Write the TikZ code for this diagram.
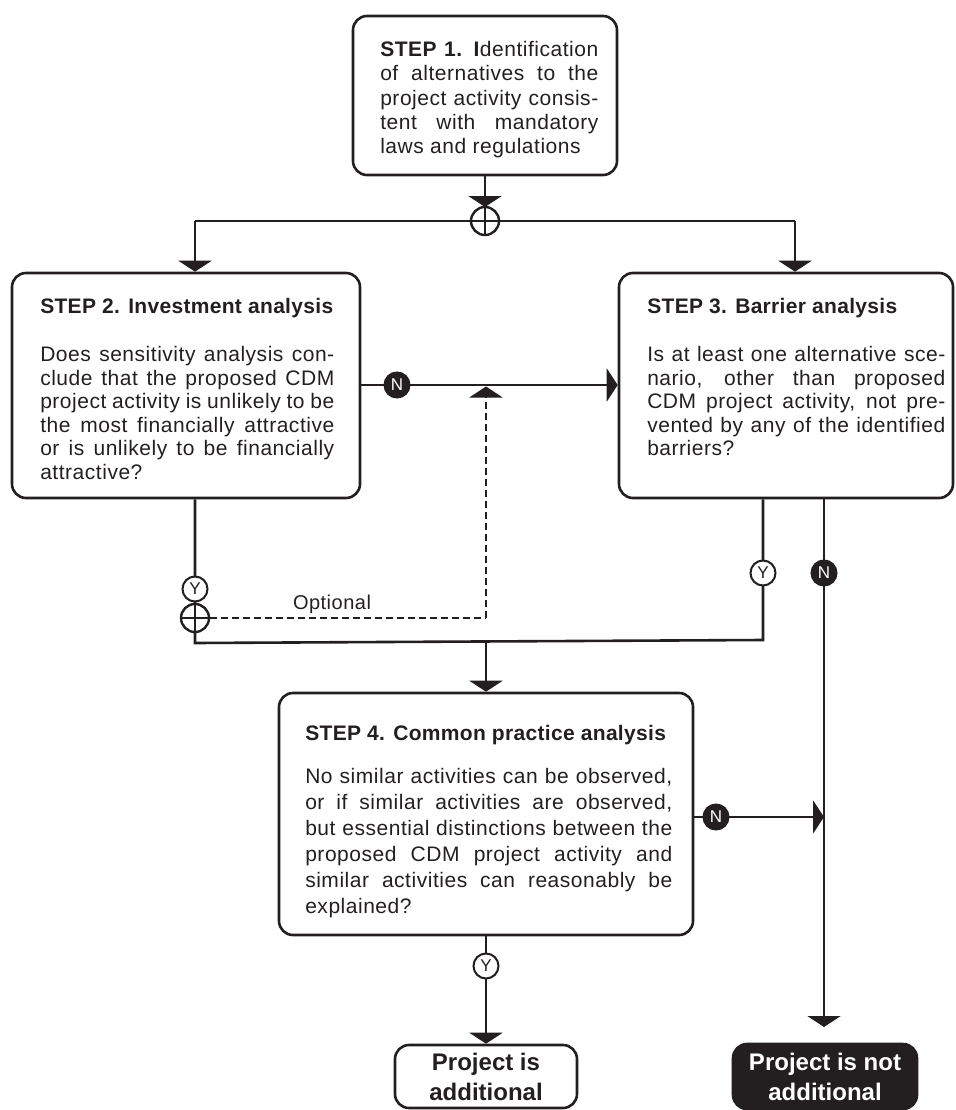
\documentclass[tikz,border=0pt]{standalone}
\usepackage{fontspec}
\setmainfont{Liberation Sans}
\newfontfamily\trk{Liberation Sans}[LetterSpace=2.5]
\newfontfamily\trkh{Liberation Sans}[LetterSpace=1.5]
\usetikzlibrary{arrows.meta}
\definecolor{ink}{RGB}{35,31,32}
\newcommand{\J}[2]{\makebox[#1][s]{#2}}
\newcommand{\Lf}[2]{\makebox[#1][l]{#2}}
\begin{document}
\begin{tikzpicture}[x=1pt,y=-1pt,line width=2.6pt,color=ink,
  stepbox/.style={draw=ink,rounded corners=14pt,inner sep=0pt},
  txt/.style={inner sep=0pt,align=left,text=ink},
  headf/.style={font=\trkh\bfseries\fontsize{21}{23}\selectfont},
  bodyA/.style={font=\trk\fontsize{21}{24.3}\selectfont},
  bodyB/.style={font=\trk\fontsize{21}{23.6}\selectfont},
  bodyC/.style={font=\trk\fontsize{21}{26}\selectfont},
  arr/.style={-{Triangle[length=11pt,width=33pt]}},
  dsh/.style={dash pattern=on 7pt off 4pt,line width=2.2pt},
  ycirc/.style={circle,draw=ink,fill=white,line width=2pt,inner sep=0pt,minimum size=25pt,font=\fontsize{17}{17}\selectfont,text=ink},
  ncirc/.style={circle,draw=ink,fill=ink,line width=2pt,inner sep=0pt,minimum size=25pt,font=\fontsize{17}{17}\selectfont,text=white},
  pcirc/.style={circle,draw=ink,fill=white,line width=2.4pt,inner sep=0pt,minimum size=28pt}]
\useasboundingbox (0,0) rectangle (955,1110);

% boxes
\node[stepbox,minimum width=264pt,minimum height=159pt] (s1) at (485,95.5) {};
\node[stepbox,minimum width=348pt,minimum height=225pt] (s2) at (186,385.5) {};
\node[stepbox,minimum width=334pt,minimum height=225pt] (s3) at (786,385.5) {};
\node[stepbox,minimum width=414pt,minimum height=242pt] (s4) at (486,814) {};
\node[stepbox,minimum width=182pt,minimum height=63pt] (add) at (486,1076.5) {};
\node[stepbox,fill=ink,minimum width=184pt,minimum height=65pt] (nadd) at (825,1076.5) {};

% texts
\node[txt,anchor=north west,bodyA] (t1) at (379,40) {\J{218pt}{\textbf{STEP 1. I}dentification}\\
\J{218pt}{of alternatives to the}\\
\J{218pt}{project activity consis-}\\
\J{218pt}{tent with mandatory}\\
\Lf{218pt}{laws and regulations}};

\node[txt,anchor=north west,headf] (h2) at (39,297) {STEP 2. Investment analysis};
\node[txt,anchor=north west,bodyB] (t2) at (39,345) {\J{294pt}{Does sensitivity analysis con-}\\
\J{294pt}{clude that the proposed CDM}\\
\J{294pt}{project activity is unlikely to be}\\
\J{294pt}{the most financially attractive}\\
\J{294pt}{or is unlikely to be financially}\\
\Lf{294pt}{attractive?}};

\node[txt,anchor=north west,headf] (h3) at (646,297) {STEP 3. Barrier analysis};
\node[txt,anchor=north west,bodyB] (t3) at (646,345) {\J{298pt}{Is at least one alternative sce-}\\
\J{298pt}{nario, other than proposed}\\
\J{298pt}{CDM project activity, not pre-}\\
\J{298pt}{vented by any of the identified}\\
\Lf{298pt}{barriers?}};

\node[txt,anchor=north west,headf] (h4) at (304,724) {STEP 4. Common practice analysis};
\node[txt,anchor=north west,bodyC] (t4) at (304,767) {\J{367pt}{No similar activities can be observed,}\\
\J{367pt}{or if similar activities are observed,}\\
\J{367pt}{but essential distinctions between the}\\
\J{367pt}{proposed CDM project activity and}\\
\J{367pt}{similar activities can reasonably be}\\
\Lf{367pt}{explained?}};

\node[txt,align=center,font=\bfseries\fontsize{24}{30}\selectfont] (ta) at (add.center) {Project is\\additional};
\node[txt,align=center,text=white,font=\bfseries\fontsize{24}{30}\selectfont] (tn) at (nadd.center) {Project is not\\additional};

% coordinates
\coordinate (jl) at (195,221);
\coordinate (jr) at (795,221);
\coordinate (jc) at (485,221);
\coordinate (nrow) at (0,385);
\coordinate (m1) at (195,643);
\coordinate (m2) at (763,640);
\coordinate (m3) at (486,641.5);
\coordinate (opt) at (486,386.5);
\coordinate (optc) at (486,618);
\coordinate (ntip) at (824,1027);
\coordinate (n4row) at (0,817);

% connectors
\draw (jl) -- (jr);
\draw[arr] (s1.south) -- ([yshift=14pt]jc);
\draw[arr] (jl) -- (jl |- s2.north);
\draw[arr] (jr) -- (jr |- s3.north);
\draw[arr] (s2.east |- nrow) -- (s3.west |- nrow);
\draw (m1 |- s2.south) -- (m1) -- (m2) -- (m2 |- s3.south);
\draw[arr] (m3) -- (s4.north);
\draw[arr] (ntip |- s3.south) -- (ntip);
\draw[arr] (s4.east |- n4row) -- (ntip |- n4row);
\draw[arr] (s4.south) -- (add.north);

% markers
\node[pcirc] (j1) at (jc) {};
\draw[line width=2.4pt] (j1.north) -- (j1.south);
\draw[line width=2.4pt] (j1.west) -- (j1.east);
\node[ycirc] (y2) at (195,589) {Y};
\node[pcirc] (p2) at (195,618) {};
\draw[line width=2.4pt] (p2.north) -- (p2.south);
\draw[line width=2.4pt] (p2.west) -- (p2.east);
\draw[dsh] (p2.east) -- (optc);
\draw[dsh] (optc) -- ([yshift=-10pt]opt);
\draw[arr,line width=2.2pt] ([yshift=-11pt]opt) -- (opt);
\node[txt,font=\trk\fontsize{20}{22}\selectfont] (optl) at (332,604) {Optional};
\node[ncirc] (n23) at (397,385) {N};
\node[ycirc] (y3) at (763,573) {Y};
\node[ncirc] (n3) at (824,573) {N};
\node[ncirc] (n4) at (716,817) {N};
\node[ycirc] (y4) at (486,966) {Y};
\end{tikzpicture}
\end{document}
